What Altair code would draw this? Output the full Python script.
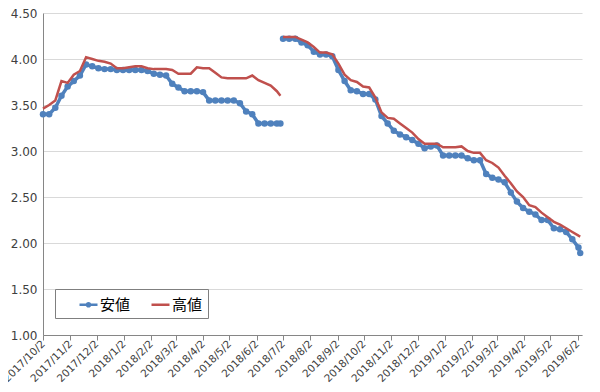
import altair as alt
import pandas as pd

# ---- data (weekly readings from the picture) ----
dates_seg1 = [
    "2017-10-02", "2017-10-09", "2017-10-16", "2017-10-23", "2017-10-30",
    "2017-11-06", "2017-11-13", "2017-11-20", "2017-11-27", "2017-12-04",
    "2017-12-11", "2017-12-18", "2017-12-25", "2018-01-01", "2018-01-08",
    "2018-01-15", "2018-01-22", "2018-01-29", "2018-02-05", "2018-02-12",
    "2018-02-19", "2018-02-26", "2018-03-05", "2018-03-12", "2018-03-19",
    "2018-03-26", "2018-04-02", "2018-04-09", "2018-04-16", "2018-04-23",
    "2018-04-30", "2018-05-07", "2018-05-14", "2018-05-21", "2018-05-28",
    "2018-06-04", "2018-06-11", "2018-06-18", "2018-06-25", "2018-06-29",
]
low_seg1 = [
    3.40, 3.40, 3.47, 3.60, 3.70, 3.76, 3.82, 3.94, 3.92, 3.90,
    3.89, 3.89, 3.88, 3.88, 3.88, 3.88, 3.88, 3.87, 3.84, 3.83,
    3.82, 3.73, 3.69, 3.65, 3.65, 3.65, 3.64, 3.55, 3.55, 3.55,
    3.55, 3.55, 3.52, 3.43, 3.40, 3.30, 3.30, 3.30, 3.30, 3.30,
]
high_seg1 = [
    3.46, 3.50, 3.55, 3.76, 3.74, 3.83, 3.87, 4.02, 4.00, 3.98,
    3.97, 3.95, 3.90, 3.90, 3.91, 3.92, 3.92, 3.90, 3.89, 3.89,
    3.89, 3.88, 3.84, 3.84, 3.84, 3.91, 3.90, 3.90, 3.85, 3.80,
    3.79, 3.79, 3.79, 3.79, 3.82, 3.77, 3.74, 3.71, 3.65, 3.60,
]

dates_seg2 = [
    "2018-07-02", "2018-07-09", "2018-07-16", "2018-07-23", "2018-07-30",
    "2018-08-06", "2018-08-13", "2018-08-20", "2018-08-27", "2018-09-03",
    "2018-09-10", "2018-09-17", "2018-09-24", "2018-10-01", "2018-10-08",
    "2018-10-15", "2018-10-22", "2018-10-29", "2018-11-05", "2018-11-12",
    "2018-11-19", "2018-11-26", "2018-12-03", "2018-12-10", "2018-12-17",
    "2018-12-24", "2018-12-31", "2019-01-07", "2019-01-14", "2019-01-21",
    "2019-01-28", "2019-02-04", "2019-02-11", "2019-02-18", "2019-02-25",
    "2019-03-04", "2019-03-11", "2019-03-18", "2019-03-25", "2019-04-01",
    "2019-04-08", "2019-04-15", "2019-04-22", "2019-04-29", "2019-05-06",
    "2019-05-13", "2019-05-20", "2019-05-27", "2019-06-03", "2019-06-05",
]
low_seg2 = [
    4.22, 4.22, 4.22, 4.18, 4.15, 4.08, 4.05, 4.05, 4.03, 3.88,
    3.76, 3.66, 3.65, 3.62, 3.62, 3.56, 3.38, 3.30, 3.22, 3.18,
    3.15, 3.12, 3.08, 3.03, 3.05, 3.06, 2.95, 2.95, 2.95, 2.95,
    2.92, 2.90, 2.90, 2.75, 2.71, 2.69, 2.66, 2.55, 2.45, 2.38,
    2.34, 2.31, 2.25, 2.25, 2.16, 2.15, 2.12, 2.04, 1.95, 1.89,
]
high_seg2 = [
    4.24, 4.24, 4.24, 4.21, 4.18, 4.13, 4.07, 4.07, 4.05, 3.95,
    3.83, 3.77, 3.75, 3.70, 3.69, 3.58, 3.42, 3.36, 3.35, 3.30,
    3.25, 3.20, 3.13, 3.08, 3.08, 3.08, 3.04, 3.04, 3.04, 3.05,
    3.00, 2.98, 2.98, 2.90, 2.87, 2.82, 2.73, 2.65, 2.56, 2.50,
    2.41, 2.39, 2.33, 2.28, 2.23, 2.20, 2.16, 2.12, 2.08, 2.07,
]

series_names = ["安値", "高値"]
series_colors = ["#4f81bd", "#c0504d"]

tick_dates = [
    (2017, 10), (2017, 11), (2017, 12), (2018, 1), (2018, 2), (2018, 3),
    (2018, 4), (2018, 5), (2018, 6), (2018, 7), (2018, 8), (2018, 9),
    (2018, 10), (2018, 11), (2018, 12), (2019, 1), (2019, 2), (2019, 3),
    (2019, 4), (2019, 5), (2019, 6),
]
y_ticks = [1.0, 1.5, 2.0, 2.5, 3.0, 3.5, 4.0, 4.5]

# ---- build long table ----
rows = []
for seg, (ds, lo, hi) in enumerate([(dates_seg1, low_seg1, high_seg1),
                                    (dates_seg2, low_seg2, high_seg2)]):
    for d, v in zip(ds, lo):
        rows.append({"date": d, "value": v, "series": series_names[0], "seg": seg})
    for d, v in zip(ds, hi):
        rows.append({"date": d, "value": v, "series": series_names[1], "seg": seg})
df = pd.DataFrame(rows)
df["date"] = pd.to_datetime(df["date"])

label_color = "#404040"
axis_color = "#868686"

x_enc = alt.X(
    "date:T",
    title=None,
    scale=alt.Scale(domain=[alt.DateTime(year=2017, month=10, date=2),
                            alt.DateTime(year=2019, month=6, date=7)]),
    axis=alt.Axis(
        values=[alt.DateTime(year=y, month=m, date=2) for y, m in tick_dates],
        format="%Y/%-m/%-d",
        labelAngle=-45,
        labelAlign="right",
        labelBaseline="middle",
        labelFontSize=10.5,
        labelFont="DejaVu Sans",
        labelColor=label_color,
        labelPadding=2,
        labelOverlap=False,
        tickSize=5,
        tickColor=axis_color,
        domainColor=axis_color,
        grid=False,
    ),
)
y_enc = alt.Y(
    "value:Q",
    title=None,
    scale=alt.Scale(domain=[1.0, 4.5], nice=False, zero=False),
    axis=alt.Axis(
        values=y_ticks,
        format=".2f",
        labelFontSize=12,
        labelFont="DejaVu Sans",
        labelColor=label_color,
        labelPadding=6,
        ticks=False,
        domainColor=axis_color,
        grid=True,
        gridColor="#d9d9d9",
    ),
)
color_enc = alt.Color(
    "series:N",
    scale=alt.Scale(domain=series_names, range=series_colors),
    legend=alt.Legend(
        title="安",
        titleOpacity=0,
        titleOrient="left",
        titleFont="Noto Sans CJK JP",
        titleFontSize=14,
        titlePadding=4,
        orient="none",
        legendX=12,
        legendY=276,
        direction="horizontal",
        symbolType={"expr": "datum.value === '安値' ? 'M-1,0L1,0M-0.18,0A0.18,0.18,0,1,1,0.18,0A0.18,0.18,0,1,1,-0.18,0Z' : 'stroke'"},
        symbolSize=324,
        symbolStrokeWidth=2.5,
        labelExpr="datum.label === '高値' ? datum.label + '\u3000 ' : datum.label",
        labelFontSize=15,
        labelFont="Noto Sans CJK JP",
        labelColor="#000000",
        labelOffset=1,
        columnPadding=15,
        padding=5,
        strokeColor="#7f7f7f",
        fillColor="#ffffff",
    ),
)

base = alt.Chart(df).encode(x=x_enc, y=y_enc, color=color_enc, detail="seg:N")

low_line = base.transform_filter(alt.datum.series == series_names[0]).mark_line(strokeWidth=3.5)
low_pts = base.transform_filter(alt.datum.series == series_names[0]).mark_point(
    filled=True, size=42, opacity=1, shape="circle")
high_line = base.transform_filter(alt.datum.series == series_names[1]).mark_line(strokeWidth=2.5)

chart = (
    alt.layer(low_line, low_pts, high_line)
    .properties(
        width=539,
        height=322,
        autosize=alt.AutoSizeParams(type="none"),
        padding={"left": 35, "top": 5, "right": 10, "bottom": 50},
        background="white",
    )
    .configure_view(stroke=None)
)

chart.save("out.html", embed_options={"renderer": "svg", "actions": False})
